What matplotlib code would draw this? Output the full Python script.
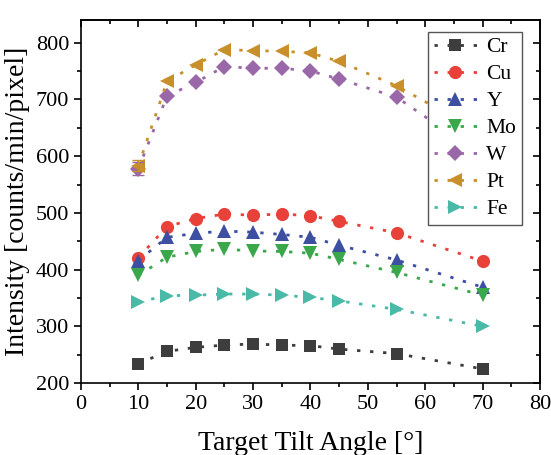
import matplotlib
matplotlib.use("Agg")
import matplotlib.pyplot as plt
from matplotlib.ticker import MultipleLocator

angles = [10, 15, 20, 25, 30, 35, 40, 45, 55, 70]

cr = [234, 256, 263, 267, 269, 267, 266, 260, 252, 225]
cu = [421, 476, 490, 498, 496, 498, 495, 485, 465, 415]
y_vals = [416, 457, 464, 468, 466, 462, 457, 443, 417, 369]
mo = [390, 422, 432, 436, 433, 432, 429, 418, 395, 355]
w = [578, 706, 730, 758, 755, 755, 750, 736, 704, 600]
pt = [583, 732, 761, 788, 786, 785, 782, 767, 724, 640]
fe = [343, 354, 355, 357, 357, 355, 351, 345, 330, 300]

series = [
    ("Cr", cr, "s", "#3d3d3d"),
    ("Cu", cu, "o", "#e8413a"),
    ("Y", y_vals, "^", "#3c4fa0"),
    ("Mo", mo, "v", "#3aa84a"),
    ("W", w, "D", "#9a68a8"),
    ("Pt", pt, "<", "#c98f2b"),
    ("Fe", fe, ">", "#4ab9a7"),
]

plt.rcParams['font.family'] = ['Liberation Serif', 'DejaVu Serif']

fig = plt.figure(figsize=(5.51, 4.55), dpi=100)
ax = fig.add_axes([0.147, 0.158, 0.833, 0.798])

for name, vals, marker, color in series:
    ms = 8 if marker in ("s", "D") else 9.5
    ax.plot(angles, vals, linestyle=(0, (1.2, 3.5)), linewidth=2, color=color,
            marker=marker, markersize=ms, markeredgewidth=0, label=name)

# small error bars on first points
ax.errorbar([10], [w[0]], yerr=[12], fmt="none", ecolor="#9a68a8", capsize=4, lw=1)
ax.errorbar([10], [pt[0]], yerr=[10], fmt="none", ecolor="#c98f2b", capsize=4, lw=1)

ax.set_xlim(0, 80)
ax.set_ylim(200, 840)
ax.xaxis.set_major_locator(MultipleLocator(10))
ax.xaxis.set_minor_locator(MultipleLocator(5))
ax.yaxis.set_major_locator(MultipleLocator(100))
ax.yaxis.set_minor_locator(MultipleLocator(50))
ax.tick_params(axis="both", which="major", labelsize=16, length=5, width=1.2, direction="out")
ax.tick_params(axis="both", which="minor", length=3, width=1.2, direction="out")
# top / right ticks point inward
sec_x = ax.secondary_xaxis("top")
sec_x.xaxis.set_major_locator(MultipleLocator(10))
sec_x.xaxis.set_minor_locator(MultipleLocator(5))
sec_x.tick_params(which="major", direction="in", length=5, width=1.2, labeltop=False)
sec_x.tick_params(which="minor", direction="in", length=3, width=1.2)
sec_y = ax.secondary_yaxis("right")
sec_y.yaxis.set_major_locator(MultipleLocator(100))
sec_y.yaxis.set_minor_locator(MultipleLocator(50))
sec_y.tick_params(which="major", direction="in", length=5, width=1.2, labelright=False)
sec_y.tick_params(which="minor", direction="in", length=3, width=1.2)
for sp in ax.spines.values():
    sp.set_linewidth(1.2)
sec_x.spines["top"].set_linewidth(1.2)
sec_y.spines["right"].set_linewidth(1.2)

ax.set_xlabel("Target Tilt Angle [°]", fontsize=20, labelpad=12)
ax.set_ylabel("Intensity [counts/min/pixel]", fontsize=20)

leg = ax.legend(loc="upper right", fontsize=15.5, frameon=True, fancybox=False,
                edgecolor="#555555", framealpha=1, handlelength=2.0,
                handletextpad=0.45, labelspacing=0.32, borderpad=0.25,
                borderaxespad=0, bbox_to_anchor=(0.96, 0.967))
leg.get_frame().set_linewidth(1.0)

fig.savefig("out.png", dpi=100)
